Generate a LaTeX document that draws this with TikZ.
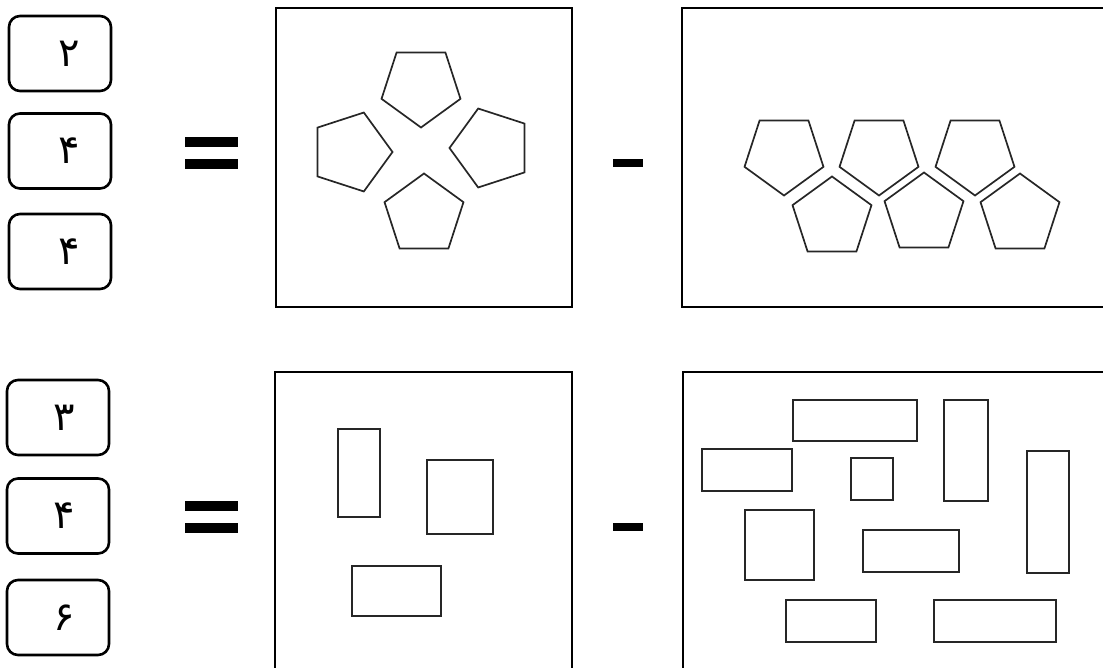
\documentclass[tikz,border=0pt]{standalone}
\usepackage{fontspec}
\newfontfamily\arabicfont[Script=Arabic]{DejaVu Sans}
\TeXXeTstate=1
\usetikzlibrary{shapes.geometric,positioning}

\tikzset{
  numbox/.style={draw, line width=2.6pt, rounded corners=11pt, minimum width=102pt, minimum height=75pt, inner sep=0pt},
  digit/.style={font=\arabicfont\fontsize{40}{42}\selectfont, inner sep=0pt},
  panel/.style={line width=1.4pt},
  penta/.style={draw=black!85, line width=1.7pt, regular polygon, regular polygon sides=5, minimum size=83pt, inner sep=0pt, outer sep=0pt},
  block/.style={draw=black!85, line width=1.7pt},
  signbar/.style={fill=black}
}

\begin{document}
\begin{tikzpicture}[x=1pt,y=-1pt]
\useasboundingbox (0,0) rectangle (1103,668);
% number boxes
\foreach \n/\x/\y/\s/\d in {a1/60/53.5/9/۲, a2/60/151/9/۴, a3/60/251.5/9/۴, b1/58/417.5/6/۳, b2/58/516/6/۴, b3/58/617.5/6/۶} {
  \node[numbox] (\n) at (\x,\y) {};
  \node[digit] (\n t) at ([xshift=\s pt]\n.center) {\beginR\d\endR};
}
% equal and minus signs
\foreach \y in {137,159,501,523}
  \fill[signbar] (185,\y) rectangle ++(53,10);
\foreach \y in {159,523}
  \fill[signbar] (613,\y) rectangle ++(30,8);
% frames
\draw[panel] (276,8) rectangle (572,307);
\draw[panel] (1104,8) -- (682,8) -- (682,307) -- (1104,307);
\draw[panel] (275,669) -- (275,372) -- (572,372) -- (572,669);
\draw[panel] (683,669) -- (683,372) -- (1104,372);
% pentagons
\foreach \n/\x/\y/\r in {p1/421/86/180, p2/351/152/-90, p3/491/148/90, p4/424/215/0,
    q1/784/154/180, q2/879/154/180, q3/975/154/180, q4/832/218/0, q5/924/214/0, q6/1020/215/0}
  \node[penta, shape border rotate=\r] (\n) at (\x,\y) {};
% rectangles
\foreach \x/\y/\X/\Y in {338/429/380/517, 427/460/493/534, 352/566/441/616,
    793/400/917/441, 944/400/988/501, 702/449/792/491, 851/458/893/500, 1027/451/1069/573,
    745/510/814/580, 863/530/959/572, 786/600/876/642, 934/600/1056/642}
  \draw[block] (\x,\y) rectangle (\X,\Y);
\end{tikzpicture}
\end{document}
